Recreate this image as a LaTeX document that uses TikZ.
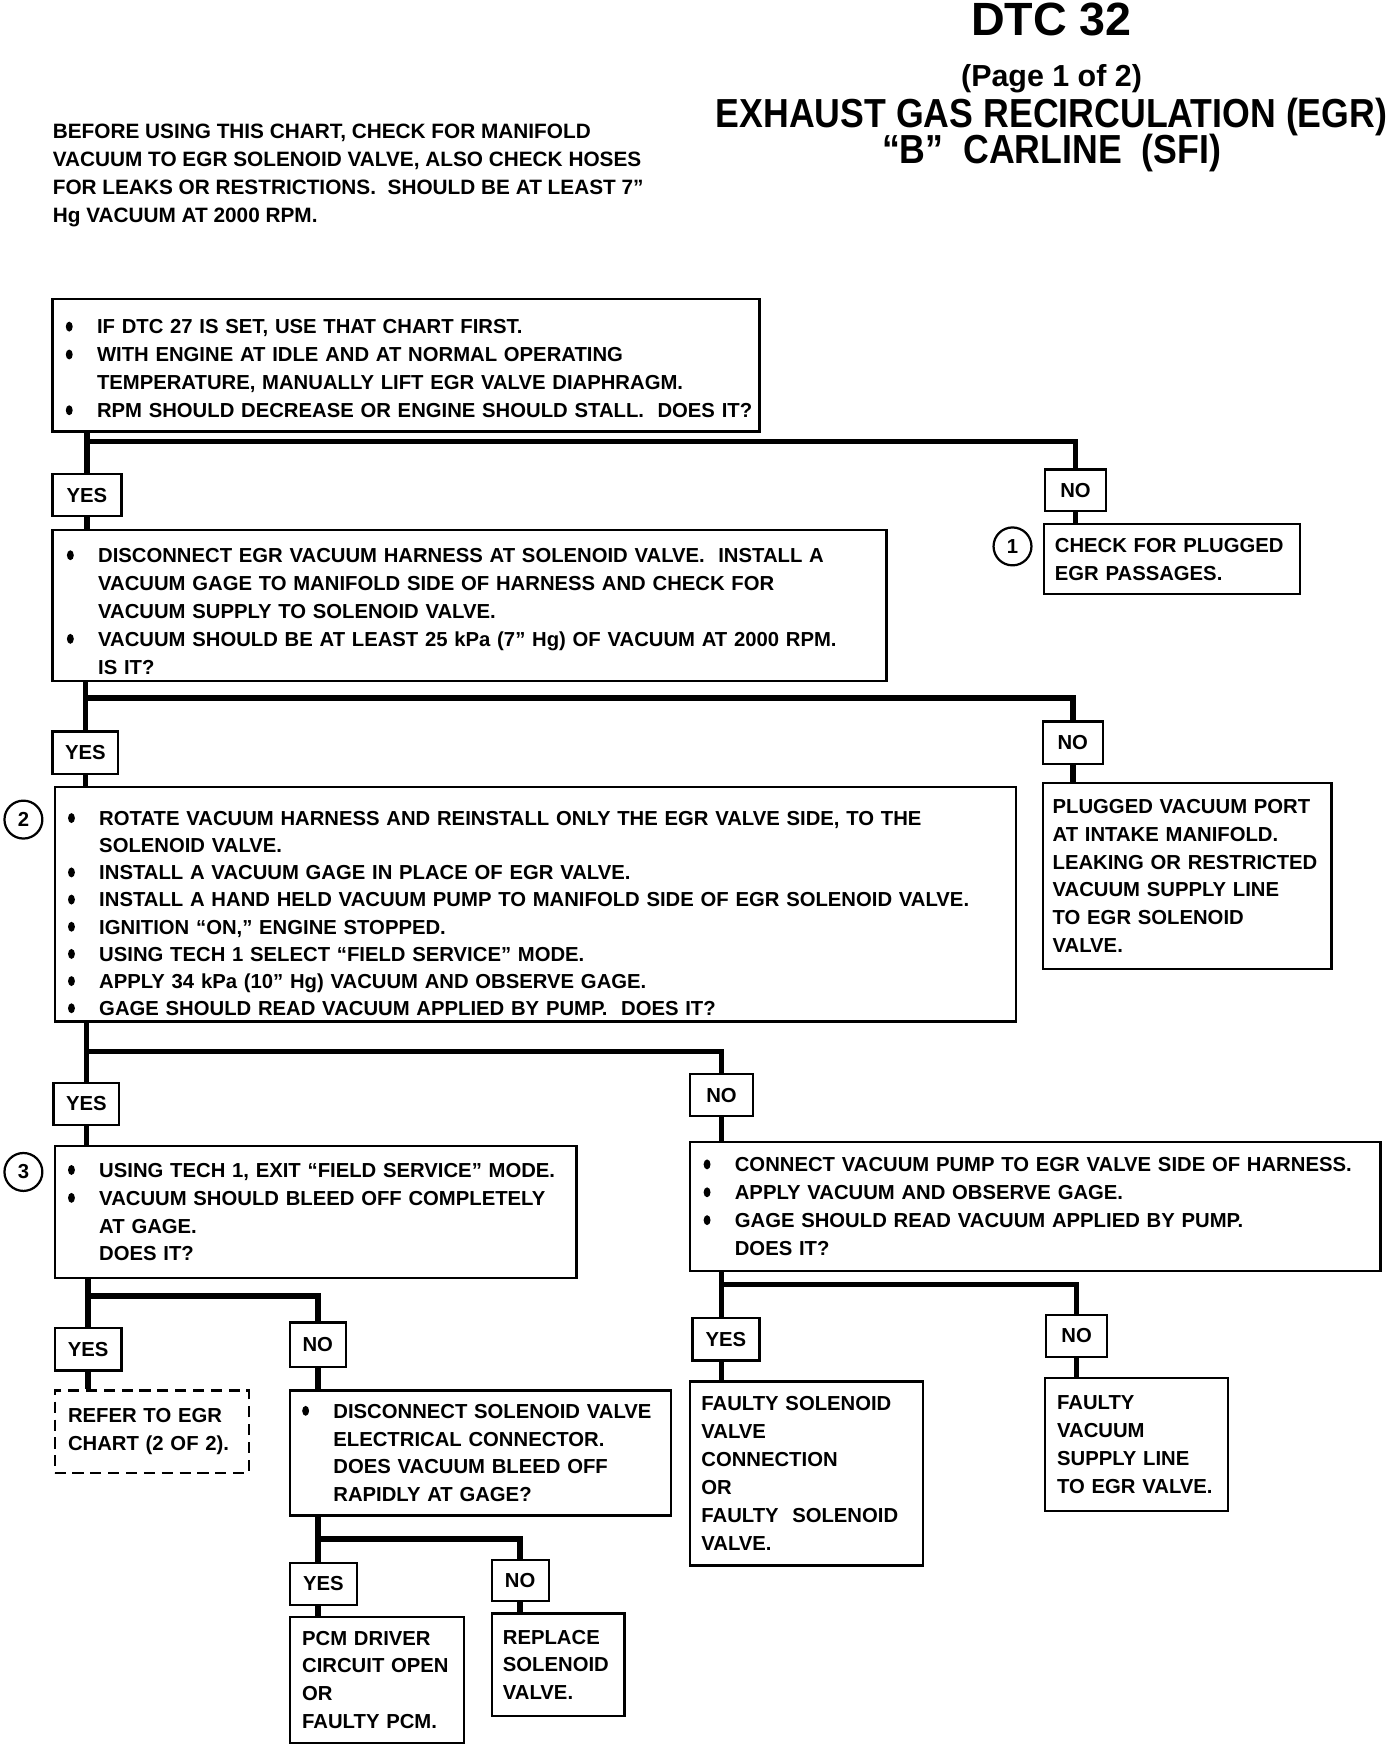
\documentclass[tikz,border=0pt]{standalone}
\usepackage{fontspec}
\setmainfont{Liberation Sans}
\usepackage{graphicx}
\newdimen\pxu \pxu=0.55pt
\newcommand\bulmark{\tikz[baseline=0pt]\fill[black] (1.7pt,3.6pt) ellipse[x radius=1.7pt, y radius=2.45pt];}
\newcommand\bitem[1]{\mbox{\makebox[28\pxu][l]{\bulmark}#1}}
\newcommand\citem[1]{\mbox{\hspace*{28\pxu}#1}}
\begin{document}
\begin{tikzpicture}[x=0.55pt,y=-0.55pt,
  box/.style={draw, line width=1.1pt, anchor=north west, align=left, inner ysep=0pt, font=\bfseries\fontsize{10}{13.75}\selectfont},
  dbox/.style={box, dash pattern=on 5.5pt off 3.3pt},
  yn/.style={draw, line width=1.1pt, anchor=north west, inner sep=0pt, font=\bfseries\fontsize{10}{12}\selectfont},
  conn/.style={line width=2.75pt},
  num/.style={draw, circle, line width=1.1pt, minimum size=34\pxu, inner sep=0pt, font=\bfseries\fontsize{10}{12}\selectfont},
  ttl/.style={anchor=base, inner sep=0pt, font=\bfseries}
]
\fill[white] (0,0) rectangle (1248,1564);
\useasboundingbox (0,0) rectangle (1248,1564);

% titles
\node[ttl, font=\bfseries\fontsize{23}{26}\selectfont] (t1) at (943,32) {DTC 32};
\node[ttl, font=\bfseries\fontsize{15}{18}\selectfont] (t2) at (943,78) {(Page 1 of 2)};
\node[ttl, font=\bfseries\fontsize{20}{24}\selectfont] (t3) at (943,114) {\scalebox{0.88}[1]{EXHAUST GAS RECIRCULATION (EGR)}};
\node[ttl, font=\bfseries\fontsize{20}{24}\selectfont] (t4) at (943,147) {\scalebox{0.88}[1]{“B”\ \ CARLINE\ \ (SFI)}};

\node[anchor=north west, inner sep=0pt, align=left, font=\bfseries\fontsize{10.25}{13.9}\selectfont] (note) at (47,110.5)
 {BEFORE USING THIS CHART, CHECK FOR MANIFOLD\\
  VACUUM TO EGR SOLENOID VALVE, ALSO CHECK HOSES\\
  FOR LEAKS OR RESTRICTIONS.\ \ SHOULD BE AT LEAST 7”\\
  Hg VACUUM AT 2000 RPM.};

% boxes
\node[box, minimum width=634\pxu, minimum height=119\pxu, inner xsep=12\pxu, text width=610\pxu] (b1) at (46,267)
 {\bitem{\rule{0pt}{10.5pt}IF DTC 27 IS SET, USE THAT CHART FIRST.}\\
  \bitem{WITH ENGINE AT IDLE AND AT NORMAL OPERATING}\\
  \citem{TEMPERATURE, MANUALLY LIFT EGR VALVE DIAPHRAGM.}\\
  \bitem{RPM SHOULD DECREASE OR ENGINE SHOULD STALL.\ \ DOES IT?}};

\node[box, minimum width=748\pxu, minimum height=136\pxu, inner xsep=13\pxu, text width=722\pxu] (b2) at (46,474)
 {\bitem{\rule{0pt}{12.7pt}DISCONNECT EGR VACUUM HARNESS AT SOLENOID VALVE.\ \ INSTALL A}\\
  \citem{VACUUM GAGE TO MANIFOLD SIDE OF HARNESS AND CHECK FOR}\\
  \citem{VACUUM SUPPLY TO SOLENOID VALVE.}\\
  \bitem{VACUUM SHOULD BE AT LEAST 25 kPa (7” Hg) OF VACUUM AT 2000 RPM.}\\
  \citem{IS IT?}};

\node[box, minimum width=230\pxu, minimum height=63\pxu, inner xsep=10\pxu, text width=210\pxu] (chk) at (935,469)
 {CHECK FOR PLUGGED\\ EGR PASSAGES.};

\node[box, font=\bfseries\fontsize{10}{13.4}\selectfont, minimum width=862\pxu, minimum height=210\pxu, inner xsep=12\pxu, text width=838\pxu] (b3) at (48,705)
 {\bitem{\rule{0pt}{16pt}ROTATE VACUUM HARNESS AND REINSTALL ONLY THE EGR VALVE SIDE, TO THE}\\
  \citem{SOLENOID VALVE.}\\
  \bitem{INSTALL A VACUUM GAGE IN PLACE OF EGR VALVE.}\\
  \bitem{INSTALL A HAND HELD VACUUM PUMP TO MANIFOLD SIDE OF EGR SOLENOID VALVE.}\\
  \bitem{IGNITION “ON,” ENGINE STOPPED.}\\
  \bitem{USING TECH 1 SELECT “FIELD SERVICE” MODE.}\\
  \bitem{APPLY 34 kPa (10” Hg) VACUUM AND OBSERVE GAGE.}\\
  \bitem{GAGE SHOULD READ VACUUM APPLIED BY PUMP.\ \ DOES IT?}};

\node[box, minimum width=259\pxu, minimum height=167\pxu, inner xsep=9\pxu, text width=241\pxu] (plug) at (934,701)
 {PLUGGED VACUUM PORT\\ AT INTAKE MANIFOLD.\\ LEAKING OR RESTRICTED\\ VACUUM SUPPLY LINE\\ TO EGR SOLENOID\\ VALVE.};

\node[box, minimum width=468\pxu, minimum height=118\pxu, inner xsep=12\pxu, text width=444\pxu] (b4) at (48,1027)
 {\bitem{USING TECH 1, EXIT “FIELD SERVICE” MODE.}\\
  \bitem{VACUUM SHOULD BLEED OFF COMPLETELY}\\
  \citem{AT GAGE.}\\
  \citem{DOES IT?}};

\node[box, minimum width=619\pxu, minimum height=116\pxu, inner xsep=12\pxu, text width=595\pxu] (b5) at (618,1023)
 {\bitem{CONNECT VACUUM PUMP TO EGR VALVE SIDE OF HARNESS.}\\
  \bitem{APPLY VACUUM AND OBSERVE GAGE.}\\
  \bitem{GAGE SHOULD READ VACUUM APPLIED BY PUMP.}\\
  \citem{DOES IT?}};

\node[dbox, minimum width=174\pxu, minimum height=74\pxu, inner xsep=12\pxu, text width=150\pxu] (ref) at (48,1246)
 {REFER TO EGR\\ CHART (2 OF 2).};

\node[box, minimum width=342\pxu, minimum height=112\pxu, inner xsep=11\pxu, text width=320\pxu] (b6) at (259,1246)
 {\bitem{DISCONNECT SOLENOID VALVE}\\
  \citem{ELECTRICAL CONNECTOR.}\\
  \citem{DOES VACUUM BLEED OFF}\\
  \citem{RAPIDLY AT GAGE?}};

\node[box, minimum width=156\pxu, minimum height=113\pxu, inner xsep=11\pxu, text width=134\pxu] (b7) at (259,1449)
 {PCM DRIVER\\ CIRCUIT OPEN\\ OR\\ FAULTY PCM.};

\node[box, minimum width=119\pxu, minimum height=92\pxu, inner xsep=10\pxu, text width=99\pxu] (b8) at (440,1446)
 {REPLACE\\ SOLENOID\\ VALVE.};

\node[box, minimum width=209\pxu, minimum height=165\pxu, inner xsep=10\pxu, text width=189\pxu] (b9) at (618,1238)
 {FAULTY SOLENOID\\ VALVE\\ CONNECTION\\ OR\\ FAULTY\ \ SOLENOID\\ VALVE.};

\node[box, minimum width=164\pxu, minimum height=119\pxu, inner xsep=11\pxu, text width=142\pxu] (b10) at (936,1235)
 {FAULTY\\ VACUUM\\ SUPPLY LINE\\ TO EGR VALVE.};

% yes / no labels
\node[yn, minimum width=62\pxu, minimum height=38\pxu] (y1) at (46,424) {YES};
\node[yn, minimum width=55\pxu, minimum height=37\pxu] (n1) at (936,420) {NO};
\node[yn, minimum width=59\pxu, minimum height=38\pxu] (y2) at (46,655) {YES};
\node[yn, minimum width=54\pxu, minimum height=38\pxu] (n2) at (934,646) {NO};
\node[yn, minimum width=59\pxu, minimum height=38\pxu] (y3) at (47,970) {YES};
\node[yn, minimum width=56\pxu, minimum height=38\pxu] (n3) at (618,962) {NO};
\node[yn, minimum width=60\pxu, minimum height=38\pxu] (y4) at (48,1190) {YES};
\node[yn, minimum width=50\pxu, minimum height=40\pxu] (n4) at (259,1185) {NO};
\node[yn, minimum width=60\pxu, minimum height=37\pxu] (y5) at (259,1401) {YES};
\node[yn, minimum width=51\pxu, minimum height=37\pxu] (n5) at (440,1398) {NO};
\node[yn, minimum width=60\pxu, minimum height=38\pxu] (y6) at (620,1181) {YES};
\node[yn, minimum width=55\pxu, minimum height=38\pxu] (n6) at (937,1178) {NO};

% numbered circles
\node[num] (c1) at (908,490) {1};
\node[num] (c2) at (21,735) {2};
\node[num] (c3) at (21,1051) {3};

% junction rows
\coordinate (j1) at (77,396);
\coordinate (j2) at (75,626);
\coordinate (j3) at (76,943);
\coordinate (j4) at (78,1162);
\coordinate (j5) at (284,1380);
\coordinate (j6) at (648,1152);

% connectors
\draw[conn] (b1.south -| y1.north) -- (y1.north);
\draw[conn] (j1 -| y1.north) -| (n1.north);
\draw[conn] (y1.south) -- (y1.south |- b2.north);
\draw[conn] (n1.south) -- (n1.south |- chk.north);

\draw[conn] (b2.south -| y2.north) -- (y2.north);
\draw[conn] (j2 -| y2.north) -| (n2.north);
\draw[conn] (y2.south) -- (y2.south |- b3.north);
\draw[conn] (n2.south) -- (n2.south |- plug.north);

\draw[conn] (b3.south -| y3.north) -- (y3.north);
\draw[conn] (j3 -| y3.north) -| (n3.north);
\draw[conn] (y3.south) -- (y3.south |- b4.north);
\draw[conn] (n3.south) -- (n3.south |- b5.north);

\draw[conn] (b4.south -| y4.north) -- (y4.north);
\draw[conn] (j4 -| y4.north) -| (n4.north);
\draw[conn] (y4.south) -- (y4.south |- ref.north);
\draw[conn] (n4.south) -- (n4.south |- b6.north);

\draw[conn] (b6.south -| n4.south) -- (n4.south |- y5.north);
\draw[conn] (j5) -| (n5.north);
\draw[conn] (y5.south -| n4.south) -- (n4.south |- b7.north);
\draw[conn] (n5.south) -- (n5.south |- b8.north);

\draw[conn] (b5.south -| n3.south) -- (n3.south |- y6.north);
\draw[conn] (j6 -| n3.south) -| (n6.north);
\draw[conn] (y6.south -| n3.south) -- (n3.south |- b9.north);
\draw[conn] (n6.south) -- (n6.south |- b10.north);
\end{tikzpicture}
\end{document}
